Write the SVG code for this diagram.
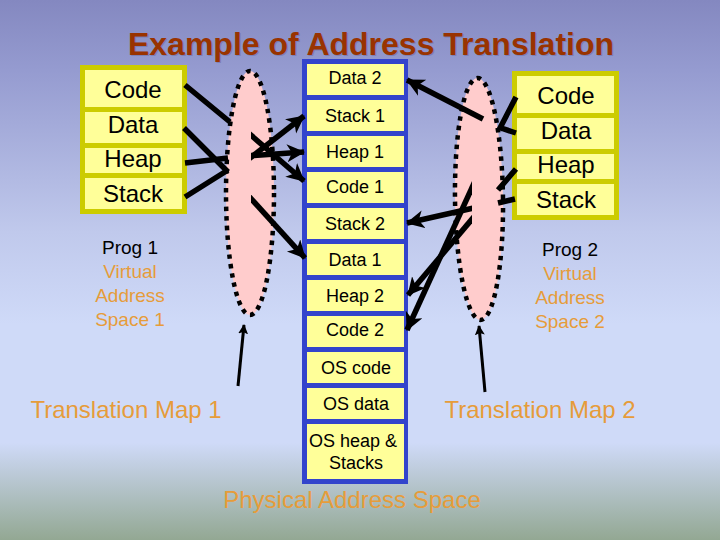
<svg xmlns="http://www.w3.org/2000/svg" width="720" height="540" viewBox="0 0 720 540">
<style>
text{font-family:"Liberation Sans",Arial,sans-serif;text-anchor:middle}
.c{fill:#ffff99}
.y{fill:#cccc00}
.b{fill:#3344cc}
.t{fill:#000;font-size:24px}
.s{fill:#000;font-size:18px}
.p{fill:#000;font-size:19px}
.o{fill:#e69c3a;font-size:24px}
.m{fill:#e69c3a;font-size:19px}
.e{fill:#ffcccc;stroke:#000;stroke-width:4.5;stroke-dasharray:4.5 5}
.k{stroke:#000;stroke-width:5.5;fill:none}
.h{stroke:#000;stroke-width:5.5;fill:none;marker-end:url(#a)}
.n{stroke:#000;stroke-width:3;fill:none;marker-end:url(#n)}
</style>
<defs>
<linearGradient id="bg" x1="0" y1="0" x2="0" y2="1">
<stop offset="0" stop-color="#8488c0"/>
<stop offset="0.13" stop-color="#959bd0"/>
<stop offset="0.43" stop-color="#c0c9ec"/>
<stop offset="0.6" stop-color="#cfdaf8"/>
<stop offset="0.82" stop-color="#cfdaf8"/>
<stop offset="1" stop-color="#93a893"/>
</linearGradient>
<marker id="a" markerUnits="userSpaceOnUse" markerWidth="20" markerHeight="20" refX="17" refY="9" orient="auto"><path d="M0 0L18 9L0 18L5 9z" fill="#000"/></marker>
<marker id="n" markerUnits="userSpaceOnUse" markerWidth="12" markerHeight="12" refX="9" refY="5" orient="auto"><path d="M0 0L10 5L0 10L2 5z" fill="#000"/></marker>
<clipPath id="cl"><rect x="251" y="100" width="60" height="170"/></clipPath>
<clipPath id="cr"><rect x="395" y="170" width="77" height="170"/></clipPath>
</defs>
<rect width="720" height="540" fill="url(#bg)"/>
<g id="title"><text x="372" y="56" font-size="32" font-weight="700" fill="#6f72a8" opacity=".6">Example of Address Translation</text><text x="371" y="55" font-size="32" font-weight="700" fill="#993300">Example of Address Translation</text></g>
<g id="map1"><ellipse class="e" cx="250" cy="193" rx="24" ry="122"/></g>
<g id="map2"><ellipse class="e" cx="479" cy="199" rx="24" ry="121" transform="rotate(-0.7 479 199)"/></g>
<g id="prog1">
<rect class="y" x="80" y="65" width="107" height="149"/>
<rect class="c" x="85" y="70" width="97" height="37"/><rect class="c" x="85" y="112" width="97" height="31"/><rect class="c" x="85" y="148" width="97" height="25"/><rect class="c" x="85" y="178" width="97" height="31"/>
<text class="t" x="133" y="98">Code</text><text class="t" x="133" y="133">Data</text><text class="t" x="133" y="167">Heap</text><text class="t" x="133" y="202">Stack</text>
</g>
<g id="prog2">
<rect class="y" x="512" y="71" width="107" height="149"/>
<rect class="c" x="517" y="76" width="97" height="37"/><rect class="c" x="517" y="118" width="97" height="31"/><rect class="c" x="517" y="154" width="97" height="25"/><rect class="c" x="517" y="184" width="97" height="31"/>
<text class="t" x="566" y="104">Code</text><text class="t" x="566" y="139">Data</text><text class="t" x="566" y="173">Heap</text><text class="t" x="566" y="208">Stack</text>
</g>
<g id="physical">
<rect class="b" x="302" y="59" width="106" height="425"/>
<rect class="c" x="307" y="64" width="97" height="31"/><rect class="c" x="307" y="100" width="97" height="31"/><rect class="c" x="307" y="136" width="97" height="31"/><rect class="c" x="307" y="172" width="97" height="31"/><rect class="c" x="307" y="208" width="97" height="31"/><rect class="c" x="307" y="244" width="97" height="31"/><rect class="c" x="307" y="280" width="97" height="31"/><rect class="c" x="307" y="316" width="97" height="31"/><rect class="c" x="307" y="352" width="97" height="31"/><rect class="c" x="307" y="388" width="97" height="31"/><rect class="c" x="307" y="424" width="97" height="55"/>
<text class="s" x="355" y="84">Data 2</text><text class="s" x="355" y="122">Stack 1</text><text class="s" x="355" y="158">Heap 1</text><text class="s" x="355" y="193">Code 1</text><text class="s" x="355" y="230">Stack 2</text><text class="s" x="355" y="266">Data 1</text><text class="s" x="355" y="302">Heap 2</text><text class="s" x="355" y="336">Code 2</text><text class="s" x="356" y="374">OS code</text><text class="s" x="356" y="410">OS data</text><text class="s" x="353" y="447">OS heap &amp;</text><text class="s" x="356" y="469">Stacks</text>
</g>
<g id="labels">
<text class="p" x="130" y="254">Prog 1</text><text class="m" x="130" y="278">Virtual</text><text class="m" x="130" y="302">Address</text><text class="m" x="130" y="326">Space 1</text>
<text class="p" x="570" y="256">Prog 2</text><text class="m" x="570" y="280">Virtual</text><text class="m" x="570" y="304">Address</text><text class="m" x="570" y="328">Space 2</text>
<text class="o" x="126" y="418">Translation Map 1</text><text class="o" x="540" y="418">Translation Map 2</text><text class="o" x="352" y="508">Physical Address Space</text>
</g>
<g id="connectors">
<path class="k" d="M185 85L230 122M184 128L228 172M185 163L228 158M185 197L228 170M516 97L499 130M516 133L498 127M516 169L498 190M515 199L498 203"/>
<g clip-path="url(#cl)"><path class="h" d="M245 130L304 181"/><path class="h" d="M245 162L304 116"/><path class="h" d="M245 156L304 152"/><path class="h" d="M245 192L305 258"/></g>
<path class="h" d="M483 119L407 80"/>
<g clip-path="url(#cr)"><path class="h" d="M478 207L407 223"/><path class="h" d="M475 181L407 330"/><path class="h" d="M478 212L408 295"/></g>
<path class="n" d="M238 386L244 325"/><path class="n" d="M485 392L479 326"/>
</g>
</svg>
